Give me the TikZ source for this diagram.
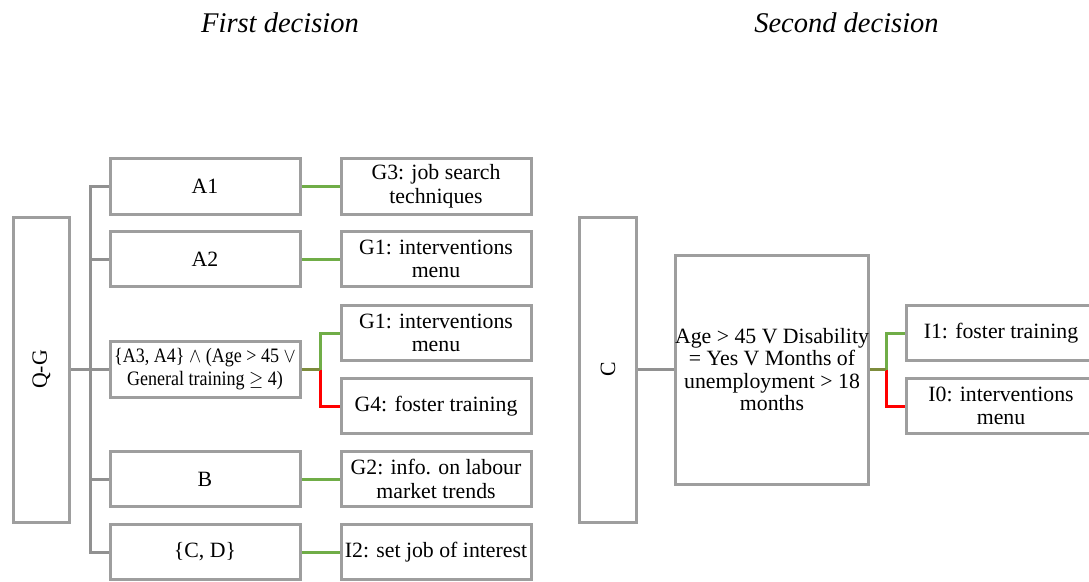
\documentclass[tikz,border=0pt]{standalone}
\usepackage{graphicx}
\usepackage{fontspec}
\setmainfont{Liberation Serif}
\definecolor{boxgray}{RGB}{158,158,158}
\definecolor{linegray}{RGB}{145,145,145}
\definecolor{okgreen}{RGB}{112,173,71}
\definecolor{nored}{RGB}{255,0,0}
\definecolor{mixolive}{RGB}{125,140,60}
\tikzset{
  box/.style={draw=boxgray, line width=3pt, inner sep=0pt, align=center,
    minimum width=190pt, minimum height=55.5pt,
    font=\fontsize{21.8}{23.5}\selectfont},
  conn/.style={draw=linegray, line width=3pt},
  yes/.style={draw=okgreen, line width=3pt},
  no/.style={draw=nored, line width=3pt},
  mix/.style={draw=mixolive, line width=3pt},
  title/.style={font=\fontsize{28.5}{30}\selectfont\itshape, anchor=base}
}
\begin{document}
\begin{tikzpicture}[x=1pt,y=-1pt]
\useasboundingbox (0,0) rectangle (1089,581);
\clip (0,0) rectangle (1089,581);

\node[title] (t1) at (280,32) {First decision};
\node[title] (t2) at (846.5,32) {Second decision};

% first decision
\node[box, minimum width=56pt, minimum height=305pt] (qg) at (41.5,369.5) {};
\node[rotate=90, font=\fontsize{21.8}{23.5}\selectfont] (qglabel) at (qg) {Q-G};

\node[box] (a1) at (205,186.5) {A1};
\node[box] (a2) at (205,259) {A2};
\node[box, font=\fontsize{20.5}{23.5}\selectfont] (a3) at (205,369.5)
  {\scalebox{0.88}[1]{\begin{tabular}{@{}c@{}}\{A3, A4\} $\wedge$ (Age > 45 $\vee$\\General training $\geq$ 4)\end{tabular}}};
\node[box] (b)  at (205,479) {B};
\node[box] (cd) at (205,552) {\{C, D\}};

\node[box] (g3)  at (436,186.5) {G3: job search\\techniques};
\node[box] (g1a) at (436,259) {G1: interventions\\menu};
\node[box] (g1b) at (436,333) {G1: interventions\\menu};
\node[box] (g4)  at (436,406) {G4: foster training};
\node[box] (g2)  at (436,479) {G2: info. on labour\\market trends};
\node[box] (i2)  at (436,552) {I2: set job of interest};

\coordinate (tr) at (90,0);
\draw[conn] (a1.west) -- (a1.west -| tr) -- (cd.west -| tr) -- (cd.west);
\draw[conn] (a2.west) -- (a2.west -| tr);
\draw[conn] (b.west) -- (b.west -| tr);
\draw[conn] (qg.east) -- (a3.west);

\draw[yes] (a1.east) -- (g3.west);
\draw[yes] (a2.east) -- (g1a.west);
\draw[yes] (b.east) -- (g2.west);
\draw[yes] (cd.east) -- (i2.west);

\coordinate (s1) at (320,369.5);
\draw[yes] (s1) |- (g1b.west);
\draw[no] (s1) |- (g4.west);
\draw[mix] (a3.east) -- (s1);

% second decision
\node[box, minimum width=57pt, minimum height=305pt] (c) at (608,369.5) {};
\node[rotate=90, font=\fontsize{21.8}{23.5}\selectfont] (clabel) at (c) {C};

\node[box, minimum width=189pt, minimum height=229pt, font=\fontsize{21.8}{22.5}\selectfont] (big) at (772,369.5)
  {Age > 45 V Disability\\= Yes V Months of\\unemployment > 18\\months};

\node[box, minimum width=189pt] (i1) at (1001,333) {I1: foster training};
\node[box, minimum width=189pt] (i0) at (1001,406) {I0: interventions\\menu};

\draw[conn] (c.east) -- (big.west);
\coordinate (s2) at (886,369.5);
\draw[yes] (s2) |- (i1.west);
\draw[no] (s2) |- (i0.west);
\draw[mix] (big.east) -- (s2);
\end{tikzpicture}
\end{document}
